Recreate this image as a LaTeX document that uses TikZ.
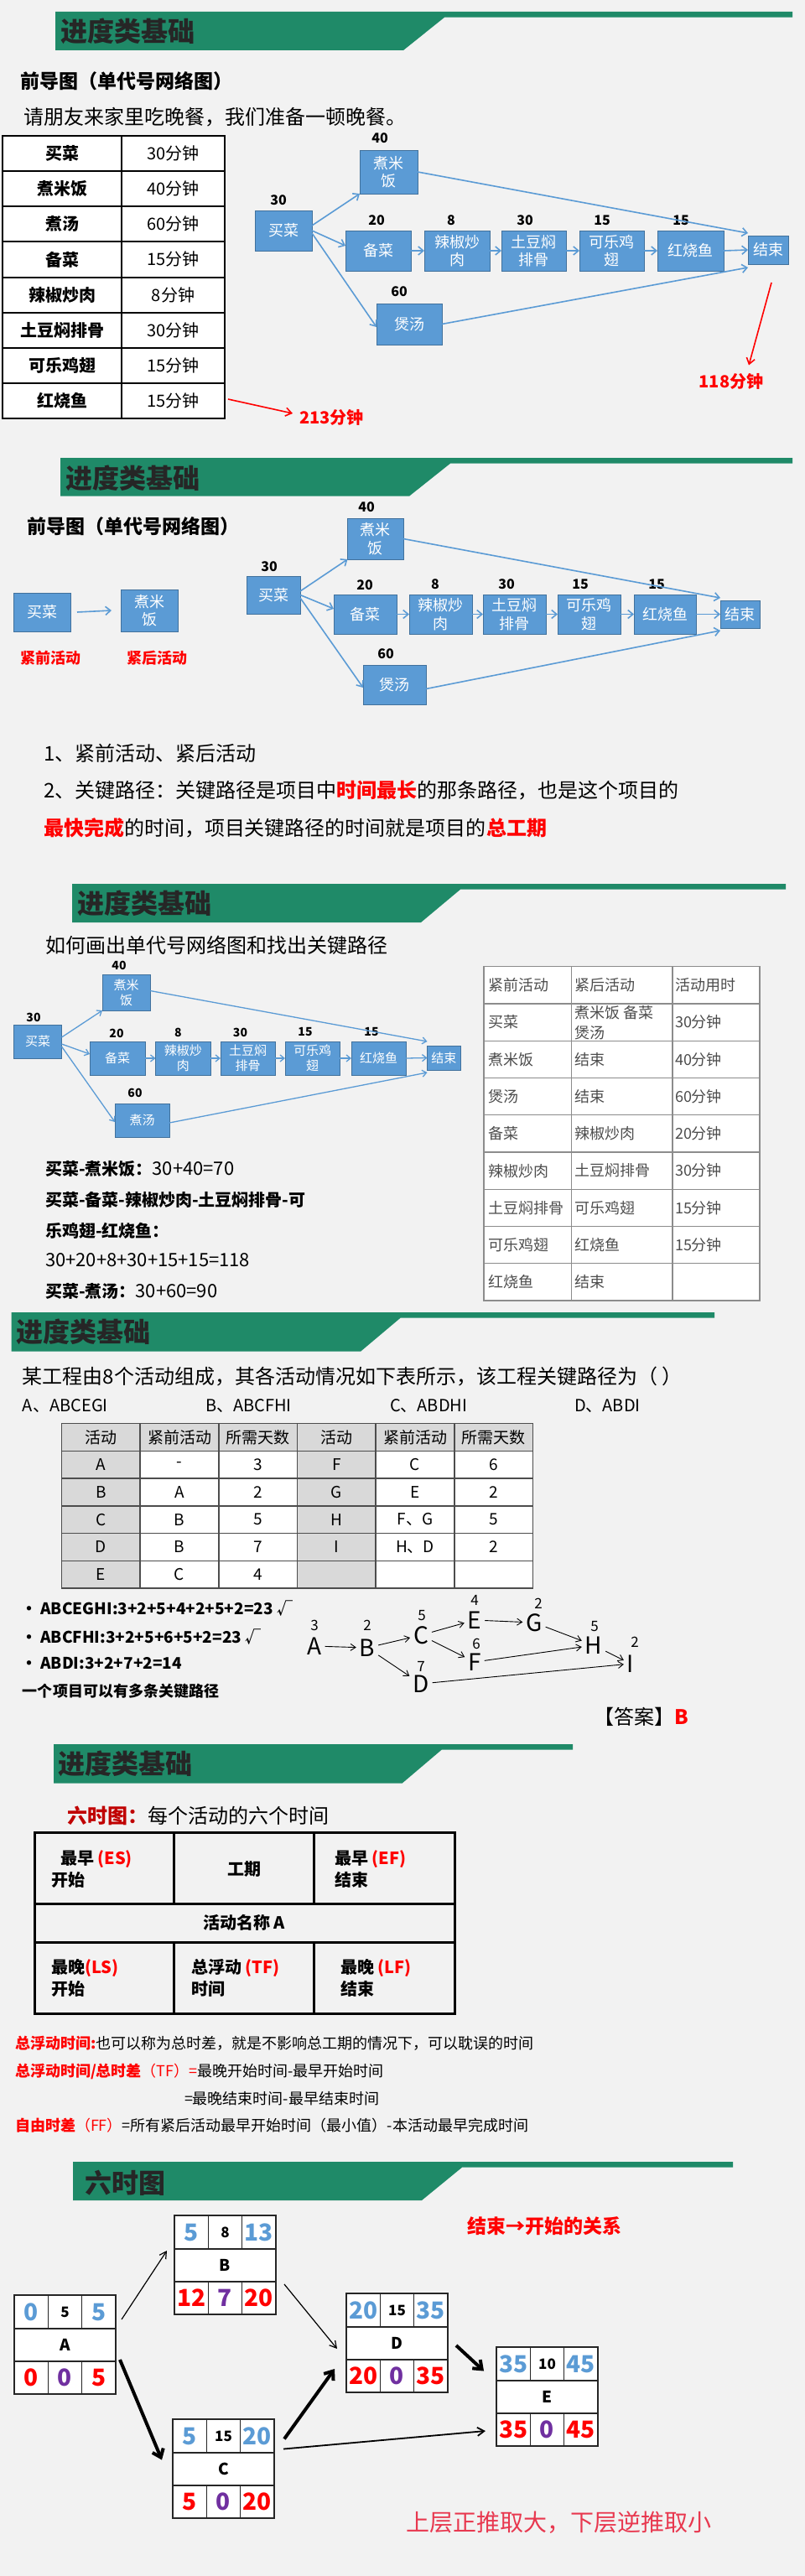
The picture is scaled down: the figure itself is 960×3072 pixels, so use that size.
\documentclass[tikz,border=0pt]{standalone}
\usepackage{fontspec}
\setmainfont{Noto Sans CJK SC}
\usetikzlibrary{arrows.meta}
\definecolor{bg}{HTML}{F2F2F2}
\definecolor{hgreen}{RGB}{31,138,104}
\definecolor{nbf}{HTML}{5B9BD5}
\definecolor{nbd}{HTML}{41719C}
\definecolor{purp}{HTML}{7030A0}
\definecolor{dred}{HTML}{C00000}
\definecolor{pred}{HTML}{E8384F}
\definecolor{tgray}{HTML}{8C8C8C}
\definecolor{hgray}{HTML}{D9D9D9}
\definecolor{tdark}{HTML}{4D4D4D}
\definecolor{ttl}{HTML}{262626}
\newcommand\fsz[1]{\fontsize{#1}{\dimexpr #1pt*6/5\relax}\selectfont}
\tikzset{
 every node/.style={inner sep=0pt, outer sep=0pt},
 ttlnode/.style={anchor=west, text=ttl, font=\bfseries\fsz{32}},
 nb/.style={draw=nbd, fill=nbf, text=white, align=center, font=\fsz{18}, line width=0.8pt},
 nbs/.style={nb, font=\fsz{15}},
 num/.style={font=\bfseries\fsz{16}},
 nums/.style={font=\bfseries\fsz{14}},
 barr/.style={draw=nbf, line width=1.6pt, -{Straight Barb[length=6pt,width=10pt]}},
 barrs/.style={draw=nbf, line width=1.3pt, -{Straight Barb[length=5pt,width=8pt]}},
 rarr/.style={draw=red, line width=1.6pt, -{Straight Barb[length=7pt,width=10pt]}},
 lt/.style={anchor=west},
 hw/.style={font=\fsz{28}, inner sep=4pt},
 hwn/.style={font=\fsz{17}},
 harr/.style={draw=black, line width=0.9pt, -{Straight Barb[length=6pt,width=8pt]}},
 sixfr/.style={draw=black!85, fill=white, line width=1.5pt},
 sixln/.style={draw=black!85, line width=1.5pt},
 bignum/.style={font=\bfseries\fsz{28}},
 midnum/.style={font=\bfseries\fsz{17}},
 thinarr/.style={draw=black, line width=1.2pt, -{Straight Barb[length=8pt,width=9pt]}},
 medarr/.style={draw=black, line width=1.8pt, -{Straight Barb[length=8pt,width=10pt]}},
 thickarr/.style={draw=black, line width=4pt, -{Straight Barb[length=9pt,width=14pt]}},
 cellb/.style={anchor=west, font=\bfseries\fsz{20}},
}
\newcommand\nbox[7][nb]{\node[#1, minimum width={#5-#3}, minimum height={#6-#4}] (#2) at ({(#3+#5)/2},{(#4+#6)/2}) {#7};}
\newcommand\hdrshape[6]{\fill[hgreen] (#1,#2) -- (#3,#2) -- (#3,#2+6.7) -- (#4,#2+6.7) -- (#5,#6) -- (#1,#6) -- cycle;}
\newcommand\sixbox[9]{%
 \node[sixfr, minimum width=121, minimum height=118] (bx#1) at ({#2+60.5},{#3+59}) {};
 \draw[sixln] (#2,#3+40) -- ++(121,0);
 \draw[sixln] (#2,#3+79) -- ++(121,0);
 \draw[sixln] (#2+40.3,#3) -- ++(0,40);
 \draw[sixln] (#2+80.7,#3) -- ++(0,40);
 \draw[sixln] (#2+40.3,#3+79) -- ++(0,39);
 \draw[sixln] (#2+80.7,#3+79) -- ++(0,39);
 \node[bignum, text=nbf] (bx#1tl) at (#2+20.2,#3+20) {#4};
 \node[midnum] (bx#1tm) at (#2+60.5,#3+20) {#5};
 \node[bignum, text=nbf] (bx#1tr) at (#2+100.8,#3+20) {#6};
 \node[font=\bfseries\fsz{19}] (bx#1lb) at (#2+60.5,#3+59.5) {#1};
 \node[bignum, text=red] (bx#1bl) at (#2+20.2,#3+98.5) {#7};
 \node[bignum, text=purp] (bx#1bm) at (#2+60.5,#3+98.5) {#8};
 \node[bignum, text=red] (bx#1br) at (#2+100.8,#3+98.5) {#9};
}
\begin{document}
\begin{tikzpicture}[x=1pt,y=-1pt]
\useasboundingbox (0,0) rectangle (960,3072);
\fill[bg] (0,0) rectangle (960,3072);

% ================= Section 1 =================
\hdrshape{66}{14}{945}{530}{481}{60}
\node[ttlnode] (h1) at (72,37) {进度类基础};
\node[lt, font=\bfseries\fsz{23}] (s1sub) at (24,97) {前导图（单代号网络图）};
\node[lt, font=\fsz{24}] (s1txt) at (28,140) {请朋友来家里吃晚餐，我们准备一顿晚餐。};
\node[draw=black, fill=white, line width=2pt, minimum width=265, minimum height=337] (t1) at (135.5,330.5) {};
\draw[line width=2pt] (145,162) -- (145,499);
\foreach \i in {1,...,7} \draw[line width=2pt] (3,{162+42.125*\i}) -- (268,{162+42.125*\i});
\foreach \a/\b [count=\i from 0] in {买菜/30分钟,煮米饭/40分钟,煮汤/60分钟,备菜/15分钟,辣椒炒肉/8分钟,土豆焖排骨/30分钟,可乐鸡翅/15分钟,红烧鱼/15分钟}{
 \node[font=\bfseries\fsz{20}] (t1a\i) at (74,{162+42.125*(\i+0.5)}) {\a};
 \node[font=\fsz{20}] (t1b\i) at (206.5,{162+42.125*(\i+0.5)}) {\b};
}
\nbox{s1a}{304}{251}{372}{299}{买菜}
\nbox{s1b}{429}{179}{498}{231}{煮米\\饭}
\nbox{s1c}{412}{275}{490}{323}{备菜}
\nbox{s1d}{506}{275}{584}{323}{辣椒炒\\肉}
\nbox{s1e}{598}{275}{675}{323}{土豆焖\\排骨}
\nbox{s1f}{691}{275}{768}{323}{可乐鸡\\翅}
\nbox{s1g}{784}{275}{863}{323}{红烧鱼}
\nbox{s1h}{892}{281}{940}{315}{结束}
\nbox{s1i}{449}{362}{527}{411}{煲汤}
\node[num] (n1a) at (332,239) {30};
\node[num] (n1b) at (453,165) {40};
\node[num] (n1c) at (449,263) {20};
\node[num] (n1d) at (538,263) {8};
\node[num] (n1e) at (626,263) {30};
\node[num] (n1f) at (718,263) {15};
\node[num] (n1g) at (812,263) {15};
\node[num] (n1i) at (476,348) {60};
\draw[barr] ([yshift=6pt]s1a.east) -- (s1b.south west);
\draw[barr] (s1a.east) -- ([yshift=6pt]s1c.west);
\draw[barr] ([yshift=-3pt]s1a.east) -- ([yshift=-3.5pt]s1i.west);
\draw[barr] (s1b.east) -- ([yshift=3pt]s1h.north west);
\draw[barr] (s1i.east) -- ([yshift=-4pt]s1h.south west);
\foreach \p/\q in {s1c/s1d,s1d/s1e,s1e/s1f,s1f/s1g,s1g/s1h} \draw[barr] (\p.east) -- (\q.west);
\node[lt, font=\bfseries\fsz{20}, text=red] (l213) at (357,498) {213分钟};
\coordinate (r1s) at (272,476);
\draw[rarr] (r1s) -- ([xshift=-8pt,yshift=5pt]l213.west);
\node[font=\bfseries\fsz{20}, text=red] (l118) at (872,455) {118分钟};
\coordinate (r2s) at (920,337);
\draw[rarr] (r2s) -- ([xshift=21pt,yshift=10pt]l118.north);

% ================= Section 2 =================
\hdrshape{72}{546}{945}{537}{488}{591.7}
\node[ttlnode] (h2) at (78,570) {进度类基础};
\node[lt, font=\bfseries\fsz{23}] (s2sub) at (32,628) {前导图（单代号网络图）};
\nbox{m1}{16.5}{707}{84}{753}{买菜}
\nbox{m2}{144}{703}{212}{753}{煮米\\饭}
\draw[barr] ([xshift=8pt]m1.east) -- ([xshift=-11pt]m2.west);
\node[font=\bfseries\fsz{18}, text=red] (m1l) at (60,785) {紧前活动};
\node[font=\bfseries\fsz{18}, text=red] (m2l) at (187.5,785) {紧后活动};
\nbox{s2a}{294.5}{687}{358}{732}{买菜}
\nbox{s2b}{414.5}{618}{481}{667}{煮米\\饭}
\nbox{s2c}{398}{709}{473}{756}{备菜}
\nbox{s2d}{488}{709}{563}{756}{辣椒炒\\肉}
\nbox{s2e}{576}{709}{651}{756}{土豆焖\\排骨}
\nbox{s2f}{665}{709}{740}{756}{可乐鸡\\翅}
\nbox{s2g}{756}{709}{830}{756}{红烧鱼}
\nbox{s2h}{859}{716}{906}{749}{结束}
\nbox{s2i}{433}{793}{508}{840}{煲汤}
\node[num] (n2a) at (321,676) {30};
\node[num] (n2b) at (437,605) {40};
\node[num] (n2c) at (435,698) {20};
\node[num] (n2d) at (519,697) {8};
\node[num] (n2e) at (604,697) {30};
\node[num] (n2f) at (692,697) {15};
\node[num] (n2g) at (783,697) {15};
\node[num] (n2i) at (460,780) {60};
\draw[barr] ([yshift=4.5pt]s2a.east) -- (s2b.south west);
\draw[barr] (s2a.east) -- ([yshift=6.5pt]s2c.west);
\draw[barr] ([yshift=-3.5pt]s2a.east) -- ([yshift=-3.5pt]s2i.west);
\draw[barr] (s2b.east) -- ([yshift=3pt]s2h.north west);
\draw[barr] ([yshift=-5pt]s2i.east) -- ([yshift=-3pt]s2h.south west);
\foreach \p/\q in {s2c/s2d,s2d/s2e,s2e/s2f,s2f/s2g,s2g/s2h} \draw[barr] (\p.east) -- (\q.west);
\node[lt, font=\fsz{24}] (s2t1) at (52,898) {1、紧前活动、紧后活动};
\node[lt, font=\fsz{24}] (s2t2) at (52,943) {2、关键路径：关键路径是项目中\textcolor{red}{\bfseries 时间最长}的那条路径，也是这个项目的};
\node[lt, font=\fsz{24}] (s2t3) at (52,987) {\textcolor{red}{\bfseries 最快完成}的时间，项目关键路径的时间就是项目的\textcolor{red}{\bfseries 总工期}};

% ================= Section 3 =================
\hdrshape{86}{1054}{937}{549}{502}{1100}
\node[ttlnode] (h3) at (92,1077) {进度类基础};
\node[lt, font=\fsz{24}] (s3sub) at (54,1127) {如何画出单代号网络图和找出关键路径};
\nbox[nbs]{s3a}{16.5}{1222}{73.5}{1262}{买菜}
\nbox[nbs]{s3b}{122}{1162}{179}{1205}{煮米\\饭}
\nbox[nbs]{s3c}{107}{1242}{173}{1282}{备菜}
\nbox[nbs]{s3d}{185.5}{1242}{251}{1282}{辣椒炒\\肉}
\nbox[nbs]{s3e}{263}{1242}{328}{1282}{土豆焖\\排骨}
\nbox[nbs]{s3f}{340}{1242}{405}{1282}{可乐鸡\\翅}
\nbox[nbs]{s3g}{419}{1242}{484}{1282}{红烧鱼}
\nbox[nbs]{s3h}{509.5}{1247}{549}{1276}{结束}
\nbox[nbs]{s3i}{137}{1316}{202}{1356}{煮汤}
\node[nums] (n3a) at (40,1213) {30};
\node[nums] (n3b) at (142,1151) {40};
\node[nums] (n3c) at (139,1232) {20};
\node[nums] (n3d) at (212.5,1231) {8};
\node[nums] (n3e) at (286.5,1231) {30};
\node[nums] (n3f) at (364,1231) {15};
\node[nums] (n3g) at (443,1231) {15};
\node[nums] (n3i) at (161,1303) {60};
\draw[barrs] ([yshift=5pt]s3a.east) -- (s3b.south west);
\draw[barrs] ([yshift=-3pt]s3a.east) -- ([yshift=5pt]s3c.west);
\draw[barrs] ([yshift=-6pt]s3a.east) -- ([yshift=-2pt]s3i.west);
\draw[barrs] ([yshift=2pt]s3b.east) -- ([yshift=5pt]s3h.north west);
\draw[barrs] ([yshift=-3pt]s3i.east) -- ([yshift=-3pt]s3h.south west);
\foreach \p/\q in {s3c/s3d,s3d/s3e,s3e/s3f,s3f/s3g,s3g/s3h} \draw[barrs] (\p.east) -- (\q.west);
\node[lt, font=\fsz{20}] (s3l1) at (54,1394) {{\bfseries 买菜-煮米饭：}{\fsz{22}30+40=70}};
\node[lt, font=\bfseries\fsz{20}] (s3l2) at (54,1431) {买菜-备菜-辣椒炒肉-土豆焖排骨-可};
\node[lt, font=\bfseries\fsz{20}] (s3l3) at (54,1468) {乐鸡翅-红烧鱼：};
\node[lt, font=\fsz{22}] (s3l4) at (54,1503) {30+20+8+30+15+15=118};
\node[lt, font=\fsz{20}] (s3l5) at (54,1540) {{\bfseries 买菜-煮汤：}{\fsz{22}30+60=90}};
\node[draw=tgray, fill=white, line width=1.2pt, minimum width=329, minimum height=398.3] (t3) at (741.5,1351.85) {};
\draw[draw=tgray, line width=1.2pt] (681.5,1152.7) -- (681.5,1551) (802,1152.7) -- (802,1551);
\foreach \i in {1,...,8} \draw[draw=tgray, line width=1.2pt] (577,{1152.7+44.26*\i}) -- (906,{1152.7+44.26*\i});
\foreach \a/\b/\c [count=\i from 0] in {紧前活动/紧后活动/活动用时,买菜/ /30分钟,煮米饭/结束/40分钟,煲汤/结束/60分钟,备菜/辣椒炒肉/20分钟,辣椒炒肉/土豆焖排骨/30分钟,土豆焖排骨/可乐鸡翅/15分钟,可乐鸡翅/红烧鱼/15分钟,红烧鱼/结束/ }{
 \node[lt, font=\fsz{18}, text=tdark] (t3a\i) at (582,{1152.7+44.26*(\i+0.5)}) {\a};
 \node[lt, font=\fsz{18}, text=tdark] (t3b\i) at (685,{1152.7+44.26*(\i+0.5)}) {\b};
 \node[lt, font=\fsz{18}, text=tdark] (t3c\i) at (805,{1152.7+44.26*(\i+0.5)}) {\c};
}
\node[lt, font=\fsz{18}, text=tdark] (t3bx) at (685,1208) {煮米饭\ 备菜};
\node[lt, font=\fsz{18}, text=tdark] (t3by) at (685,1232) {煲汤};

% ================= Section 4 =================
\hdrshape{13.5}{1565}{852}{477.5}{430}{1611.7}
\node[ttlnode] (h4) at (19.6,1588) {进度类基础};
\node[lt, font=\fsz{24}] (s4q) at (27,1641) {某工程由8个活动组成，其各活动情况如下表所示，该工程关键路径为（ ）};
\node[lt, font=\fsz{20}] (s4oa) at (27,1677) {A、ABCEGI};
\node[lt, font=\fsz{20}] (s4ob) at (245,1677) {B、ABCFHI};
\node[lt, font=\fsz{20}] (s4oc) at (465,1677) {C、ABDHI};
\node[lt, font=\fsz{20}] (s4od) at (685,1677) {D、ABDI};
\node[fill=white, minimum width=562.1, minimum height=196.3] (t4) at (354.55,1795.85) {};
\fill[hgray] (73.5,1697.7) rectangle (635.6,1730.4);
\fill[hgray] (73.5,1730.4) rectangle (166.5,1894);
\fill[hgray] (354,1730.4) rectangle (447.6,1894);
\draw[draw=tdark, line width=1.5pt] (73.5,1697.7) rectangle (635.6,1894);
\foreach \i in {1,...,5} \draw[draw=tdark, line width=1.5pt] (73.5,{1697.7+32.72*\i}) -- (635.6,{1697.7+32.72*\i});
\foreach \i in {1,...,5} \draw[draw=tdark, line width=1.5pt] ({73.5+93.68*\i},1697.7) -- ({73.5+93.68*\i},1894);
\foreach \a/\b/\c/\d/\e/\f [count=\i from 0] in {活动/紧前活动/所需天数/活动/紧前活动/所需天数,A/-/3/F/C/6,B/A/2/G/E/2,C/B/5/H/F、G/5,D/B/7/I/H、D/2,E/C/4/ / / }{
 \node[font=\fsz{19}] (t4a\i) at (120.3,{1697.7+32.72*(\i+0.5)}) {\a};
 \node[font=\fsz{19}] (t4b\i) at (214,{1697.7+32.72*(\i+0.5)}) {\b};
 \node[font=\fsz{19}] (t4c\i) at (307.7,{1697.7+32.72*(\i+0.5)}) {\c};
 \node[font=\fsz{19}] (t4d\i) at (401.4,{1697.7+32.72*(\i+0.5)}) {\d};
 \node[font=\fsz{19}] (t4e\i) at (495,{1697.7+32.72*(\i+0.5)}) {\e};
 \node[font=\fsz{19}] (t4f\i) at (588.8,{1697.7+32.72*(\i+0.5)}) {\f};
}
\node[lt, font=\bfseries\fsz{19}] (b1) at (25,1918) {\textbullet\ ABCEGHI:3+2+5+4+2+5+2=23 √};
\node[lt, font=\bfseries\fsz{19}] (b2) at (25,1952) {\textbullet\ ABCFHI:3+2+5+6+5+2=23 √};
\node[lt, font=\bfseries\fsz{19}] (b3) at (25,1984) {\textbullet\ ABDI:3+2+7+2=14};
\node[lt, font=\bfseries\fsz{18}] (b4) at (27,2017) {一个项目可以有多条关键路径};
\node[hw] (hA) at (375,1963) {A};
\node[hw] (hB) at (438,1965) {B};
\node[hw] (hC) at (502,1950) {C};
\node[hw] (hE) at (566,1932) {E};
\node[hw] (hG) at (637,1935) {G};
\node[hw] (hF) at (566,1982) {F};
\node[hw] (hH) at (708,1962) {H};
\node[hw] (hI) at (752,1984) {I};
\node[hw] (hD) at (502,2008) {D};
\node[hwn] (hA3) at (375,1938) {3};
\node[hwn] (hB2) at (438,1938) {2};
\node[hwn] (hC5) at (503,1927) {5};
\node[hwn] (hE4) at (566,1908) {4};
\node[hwn] (hG2) at (642,1912) {2};
\node[hwn] (hF6) at (568,1960) {6};
\node[hwn] (hH5) at (709,1940) {5};
\node[hwn] (hI2) at (757,1958) {2};
\node[hwn] (hD7) at (502,1987) {7};
\draw[harr] (hA) -- (hB);
\draw[harr] (hB) -- (hC);
\draw[harr] (hC) -- (hE);
\draw[harr] (hE) -- (hG);
\draw[harr] (hG) -- (hH);
\draw[harr] (hC) -- (hF);
\draw[harr] (hF) -- (hH);
\draw[harr] (hH) -- (hI);
\draw[harr] (hB) -- (hD);
\draw[harr] (hD) -- (hI);
\node[lt, font=\fsz{24}] (ans) at (708,2047) {【答案】\textcolor{red}{\bfseries B}};

% ================= Section 5 =================
\hdrshape{64}{2080}{683}{526.6}{479.5}{2126.7}
\node[ttlnode] (h5) at (69,2103) {进度类基础};
\node[lt, font=\fsz{24}] (s5sub) at (80,2165) {\textcolor{dred}{\bfseries 六时图：}每个活动的六个时间};
\node[draw=black, line width=3pt, minimum width=501, minimum height=216] (tb6) at (291.5,2293) {};
\draw[line width=3pt] (41,2270) -- (542,2270) (41,2316.7) -- (542,2316.7);
\draw[line width=3pt] (207.6,2185) -- (207.6,2270) (374,2185) -- (374,2270);
\draw[line width=3pt] (207.6,2316.7) -- (207.6,2401) (374,2316.7) -- (374,2401);
\node[cellb] (c6a) at (72,2217) {最早 \textcolor{red}{(ES)}};
\node[cellb] (c6b) at (61,2242) {开始};
\node[font=\bfseries\fsz{20}] (c6c) at (291,2229) {工期};
\node[cellb] (c6d) at (399,2217) {最早 \textcolor{red}{(EF)}};
\node[cellb] (c6e) at (399,2242) {结束};
\node[font=\bfseries\fsz{20}] (c6f) at (291,2293) {活动名称 A};
\node[cellb] (c6g) at (61,2347) {最晚\textcolor{red}{(LS)}};
\node[cellb] (c6h) at (61,2372) {开始};
\node[cellb] (c6i) at (228,2347) {总浮动 \textcolor{red}{(TF)}};
\node[cellb] (c6j) at (228,2372) {时间};
\node[cellb] (c6k) at (406,2347) {最晚 \textcolor{red}{(LF)}};
\node[cellb] (c6l) at (406,2372) {结束};
\node[lt, font=\fsz{18}] (n5a) at (18,2437) {\textcolor{red}{\bfseries 总浮动时间:}也可以称为总时差，就是不影响总工期的情况下，可以耽误的时间};
\node[lt, font=\fsz{18}] (n5b) at (18,2470) {\textcolor{red}{\bfseries 总浮动时间/总时差}\textcolor{red}{（TF）=}最晚开始时间-最早开始时间};
\node[lt, font=\fsz{18}] (n5c) at (220,2503) {=最晚结束时间-最早结束时间};
\node[lt, font=\fsz{18}] (n5d) at (18,2535) {\textcolor{red}{\bfseries 自由时差}\textcolor{red}{（FF）}=所有紧后活动最早开始时间（最小值）-本活动最早完成时间};

% ================= Section 6 =================
\hdrshape{87}{2578}{874}{551}{503}{2624}
\node[ttlnode] (h6) at (101,2603) {六时图};
\node[lt, font=\bfseries\fsz{23}, text=red] (s6rel) at (557,2655) {结束→开始的关系};
\sixbox{A}{17}{2737}{0}{5}{5}{0}{0}{5}
\sixbox{B}{208}{2642}{5}{8}{13}{12}{7}{20}
\sixbox{C}{206}{2885}{5}{15}{20}{5}{0}{20}
\sixbox{D}{413}{2735}{20}{15}{35}{20}{0}{35}
\sixbox{E}{592}{2799}{35}{10}{45}{35}{0}{45}
\draw[thinarr] ([xshift=7pt,yshift=-29pt]bxA.north east) -- ([xshift=-9pt,yshift=17pt]bxB.west);
\draw[thinarr] ([xshift=10pt,yshift=36pt]bxB.south east) -- ([xshift=-11pt,yshift=-7pt]bxD.west);
\draw[thickarr] ([xshift=5pt,yshift=41pt]bxA.south east) -- ([xshift=-13pt,yshift=10.5pt]bxC.west);
\draw[thickarr] ([xshift=12pt,yshift=35.5pt]bxC.east) -- ([xshift=-14pt,yshift=-31pt]bxD.west);
\draw[thickarr] ([xshift=10pt,yshift=-3pt]bxD.east) -- ([xshift=-15pt,yshift=30.5pt]bxE.west);
\draw[medarr] ([xshift=11pt,yshift=23.5pt]bxC.east) -- ([xshift=-13pt,yshift=-41pt]bxE.west);
\node[lt, font=\fsz{28}, text=pred] (s6note) at (484,3008) {上层正推取大，下层逆推取小};
\end{tikzpicture}
\end{document}
